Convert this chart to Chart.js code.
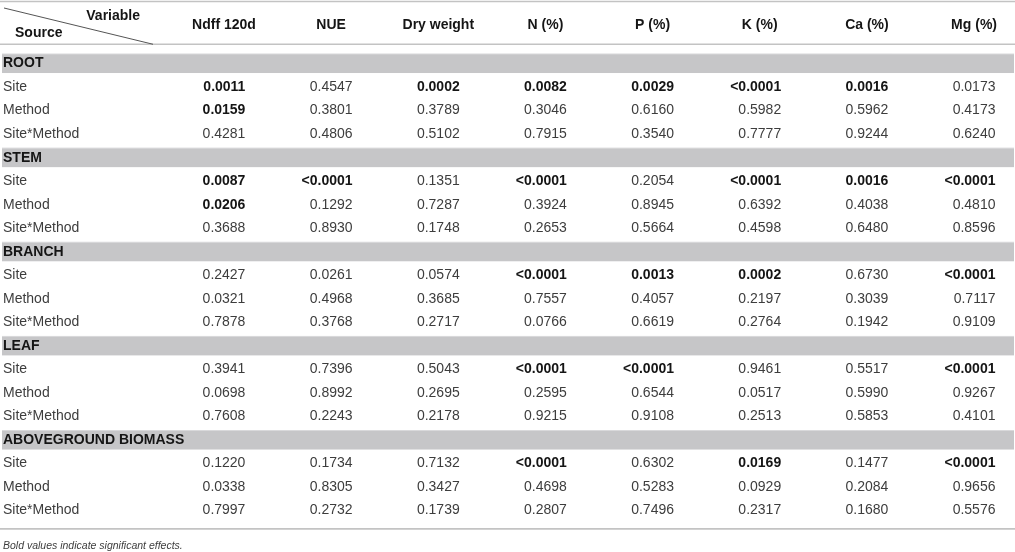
<!DOCTYPE html>
<html>
<head>
<meta charset="utf-8">
<script src="https://cdn.jsdelivr.net/npm/chart.js@4.4.1/dist/chart.umd.min.js"></script>
<style>
html, body { margin: 0; padding: 0; background: #fff; }
#wrap { width: 1015px; height: 552px; position: relative; }
</style>
</head>
<body>
<div id="wrap"><canvas id="anovaTable"></canvas></div>
<script>
// table content
const variables = ['Ndff 120d', 'NUE', 'Dry weight', 'N (%)', 'P (%)', 'K (%)', 'Ca (%)', 'Mg (%)'];
const sources = ['ROOT', 'STEM', 'BRANCH', 'LEAF', 'ABOVEGROUND BIOMASS'];
const effects = ['Site', 'Method', 'Site*Method'];

const rootValues = [
    ['0.0011', '0.4547', '0.0002', '0.0082', '0.0029', '<0.0001', '0.0016', '0.0173'],
    ['0.0159', '0.3801', '0.3789', '0.3046', '0.6160', '0.5982', '0.5962', '0.4173'],
    ['0.4281', '0.4806', '0.5102', '0.7915', '0.3540', '0.7777', '0.9244', '0.6240']
];
const rootBold = [[1, 0, 1, 1, 1, 1, 1, 0], [1, 0, 0, 0, 0, 0, 0, 0], [0, 0, 0, 0, 0, 0, 0, 0]];

const stemValues = [
    ['0.0087', '<0.0001', '0.1351', '<0.0001', '0.2054', '<0.0001', '0.0016', '<0.0001'],
    ['0.0206', '0.1292', '0.7287', '0.3924', '0.8945', '0.6392', '0.4038', '0.4810'],
    ['0.3688', '0.8930', '0.1748', '0.2653', '0.5664', '0.4598', '0.6480', '0.8596']
];
const stemBold = [[1, 1, 0, 1, 0, 1, 1, 1], [1, 0, 0, 0, 0, 0, 0, 0], [0, 0, 0, 0, 0, 0, 0, 0]];

const branchValues = [
    ['0.2427', '0.0261', '0.0574', '<0.0001', '0.0013', '0.0002', '0.6730', '<0.0001'],
    ['0.0321', '0.4968', '0.3685', '0.7557', '0.4057', '0.2197', '0.3039', '0.7117'],
    ['0.7878', '0.3768', '0.2717', '0.0766', '0.6619', '0.2764', '0.1942', '0.9109']
];
const branchBold = [[0, 0, 0, 1, 1, 1, 0, 1], [0, 0, 0, 0, 0, 0, 0, 0], [0, 0, 0, 0, 0, 0, 0, 0]];

const leafValues = [
    ['0.3941', '0.7396', '0.5043', '<0.0001', '<0.0001', '0.9461', '0.5517', '<0.0001'],
    ['0.0698', '0.8992', '0.2695', '0.2595', '0.6544', '0.0517', '0.5990', '0.9267'],
    ['0.7608', '0.2243', '0.2178', '0.9215', '0.9108', '0.2513', '0.5853', '0.4101']
];
const leafBold = [[0, 0, 0, 1, 1, 0, 0, 1], [0, 0, 0, 0, 0, 0, 0, 0], [0, 0, 0, 0, 0, 0, 0, 0]];

const abovegroundValues = [
    ['0.1220', '0.1734', '0.7132', '<0.0001', '0.6302', '0.0169', '0.1477', '<0.0001'],
    ['0.0338', '0.8305', '0.3427', '0.4698', '0.5283', '0.0929', '0.2084', '0.9656'],
    ['0.7997', '0.2732', '0.1739', '0.2807', '0.7496', '0.2317', '0.1680', '0.5576']
];
const abovegroundBold = [[0, 0, 0, 1, 0, 1, 0, 1], [0, 0, 0, 0, 0, 0, 0, 0], [0, 0, 0, 0, 0, 0, 0, 0]];

const footnote = 'Bold values indicate significant effects.';

const sectionValues = [rootValues, stemValues, branchValues, leafValues, abovegroundValues];
const sectionBold = [rootBold, stemBold, branchBold, leafBold, abovegroundBold];

// one y category per table row: section band followed by its effects
let rowLabels = [];
let sectionRows = [];
sources.forEach(s => {
    sectionRows.push(rowLabels.length);
    rowLabels.push(s, ...effects);
});

// cells are given as category indices (parsing off), ordered by column
let datasets = [];
sources.forEach((s, si) => {
    let cells = [];
    variables.forEach((v, ci) => {
        sectionValues[si].forEach((row, ri) => {
            cells.push({x: ci, y: sectionRows[si] + 1 + ri, text: row[ci], bold: sectionBold[si][ri][ci] == 1});
        });
    });
    datasets.push({label: s, data: cells, parsing: false, pointRadius: 0, pointHoverRadius: 0});
});

const FONT = "'Liberation Sans', Arial, Helvetica, sans-serif";
const TEXT = '#3d3d3d';
const DARK = '#151515';
const RULE = '#c3c3c3';
const BAND = '#c6c6c8';

const tablePlugin = {
    id: 'tablePlugin',
    beforeDraw(chart) {
        const ctx = chart.ctx;
        const yScale = chart.scales.y;
        const area = chart.chartArea;
        ctx.save();
        ctx.fillStyle = '#fff';
        ctx.fillRect(0, 0, chart.width, chart.height);

        // section bands
        sectionRows.forEach(r => {
            const y = yScale.getPixelForValue(r);
            ctx.fillStyle = BAND;
            ctx.fillRect(2, y - 9.5, chart.width - 3, 19);
            ctx.strokeStyle = '#d8d8da';
            ctx.lineWidth = 1;
            ctx.beginPath();
            ctx.moveTo(2, y - 9.5);
            ctx.lineTo(chart.width - 1, y - 9.5);
            ctx.stroke();
        });

        // horizontal rules
        ctx.strokeStyle = RULE;
        ctx.lineWidth = 1.6;
        [1.5, area.top - 7.5, area.bottom + 6.5].forEach(y => {
            ctx.beginPath();
            ctx.moveTo(0, y);
            ctx.lineTo(chart.width, y);
            ctx.stroke();
        });

        // header corner cell
        ctx.strokeStyle = '#555';
        ctx.lineWidth = 1;
        ctx.beginPath();
        ctx.moveTo(4, 8);
        ctx.lineTo(153, area.top - 7.5);
        ctx.stroke();
        ctx.fillStyle = DARK;
        ctx.font = 'bold 14px ' + FONT;
        ctx.textBaseline = 'middle';
        ctx.textAlign = 'right';
        ctx.fillText('Variable', 140, 16);
        ctx.textAlign = 'left';
        ctx.fillText('Source', 15, 33.5);
        ctx.restore();
    },
    afterDatasetsDraw(chart) {
        const ctx = chart.ctx;
        ctx.save();
        ctx.textBaseline = 'middle';
        ctx.textAlign = 'right';
        ctx.font = '14px ' + FONT;
        const half = ctx.measureText('0.0000').width / 2;
        chart.data.datasets.forEach((ds, di) => {
            const meta = chart.getDatasetMeta(di);
            meta.data.forEach((el, i) => {
                const cell = ds.data[i];
                ctx.font = (cell.bold ? 'bold ' : '') + '14px ' + FONT;
                ctx.fillStyle = cell.bold ? DARK : TEXT;
                ctx.fillText(cell.text, el.x + half, el.y);
            });
        });
        ctx.restore();
    }
};

Chart.defaults.font.family = FONT;

const canvas = document.getElementById('anovaTable').getContext('2d');
const config = {
    type: 'scatter',
    data: {datasets: datasets},
    options: {
        responsive: true,
        maintainAspectRatio: false,
        animation: false,
        events: [],
        layout: {padding: {left: 3, right: 24, top: 0, bottom: 0}},
        plugins: {
            legend: {display: false},
            tooltip: {enabled: false},
            title: {
                display: true,
                text: footnote,
                position: 'bottom',
                align: 'start',
                color: TEXT,
                font: {size: 10.5, style: 'italic', weight: 'normal'},
                padding: {top: 17, bottom: 0}
            }
        },
        scales: {
            x: {
                type: 'category',
                labels: variables,
                position: 'top',
                offset: false,
                grid: {display: false, drawTicks: false},
                border: {display: false},
                ticks: {
                    autoSkip: false,
                    maxRotation: 0,
                    padding: 18,
                    color: DARK,
                    font: {size: 14, weight: 'bold'}
                },
                afterFit: (scale) => { scale.height = 51.75; }
            },
            y: {
                type: 'category',
                labels: rowLabels,
                offset: true,
                grid: {display: false, drawTicks: false},
                border: {display: false},
                ticks: {
                    autoSkip: false,
                    crossAlign: 'far',
                    padding: 0,
                    color: (c) => sectionRows.includes(c.index) ? DARK : TEXT,
                    font: (c) => ({size: 14, weight: sectionRows.includes(c.index) ? 'bold' : 'normal'})
                },
                afterFit: (scale) => { scale.width = 221; }
            }
        }
    },
    plugins: [tablePlugin]
};
var chart = new Chart(canvas, config);
</script>
</body>
</html>
